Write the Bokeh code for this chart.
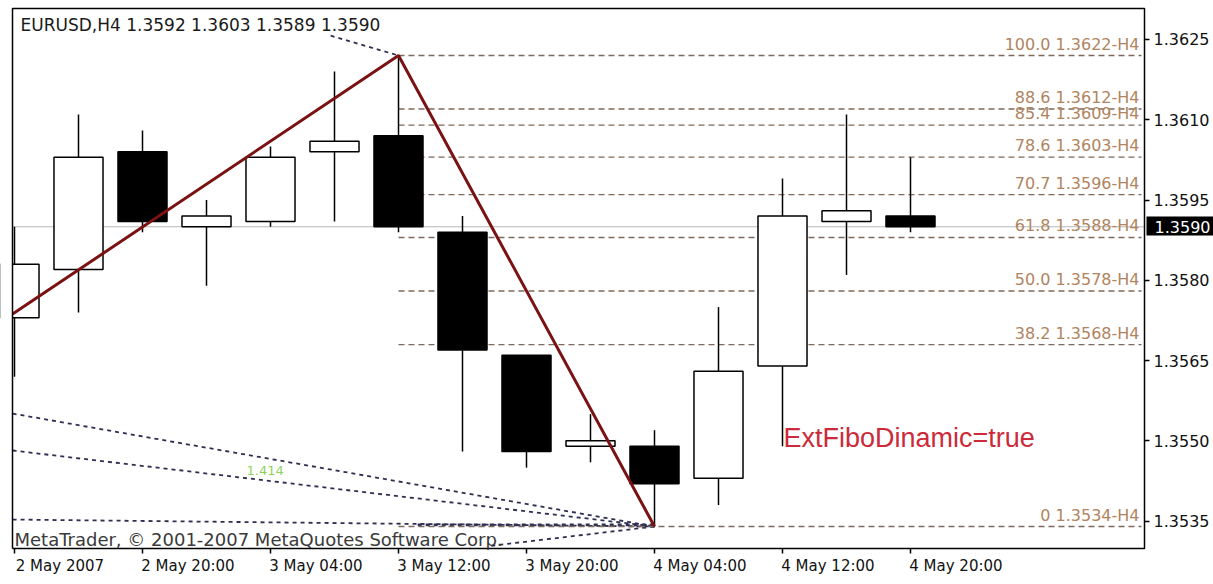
from bokeh.plotting import figure
from bokeh.models import (Range1d, FixedTicker, Label, ColumnDataSource,
                          PrintfTickFormatter, LinearAxis)
from bokeh.core.properties import value
from bokeh.embed import file_html
from bokeh.resources import INLINE

# ---------------- data ----------------
header = "EURUSD,H4  1.3592 1.3603 1.3589 1.3590"
tick_pos = [0, 2, 4, 6, 8, 10, 12, 14]
tick_labels = ["2 May 2007", "2 May 20:00", "3 May 04:00", "3 May 12:00",
               "3 May 20:00", "4 May 04:00", "4 May 12:00", "4 May 20:00"]

opens  = [1.3573, 1.3582, 1.3604, 1.3590, 1.3591, 1.3604, 1.3607, 1.3589, 1.3566, 1.3549, 1.3549, 1.3543, 1.3564, 1.3591, 1.3592]
highs  = [1.3590, 1.3611, 1.3608, 1.3595, 1.3605, 1.3619, 1.3622, 1.3592, 1.3566, 1.3555, 1.3552, 1.3575, 1.3599, 1.3611, 1.3603]
lows   = [1.3562, 1.3574, 1.3589, 1.3579, 1.3590, 1.3591, 1.3589, 1.3548, 1.3545, 1.3546, 1.3534, 1.3538, 1.3549, 1.3581, 1.3589]
closes = [1.3583, 1.3603, 1.3591, 1.3592, 1.3603, 1.3606, 1.3590, 1.3567, 1.3548, 1.3550, 1.3542, 1.3563, 1.3592, 1.3593, 1.3590]

fib_pct   = ["100.0", "88.6", "85.4", "78.6", "70.7", "61.8", "50.0", "38.2", "0"]
fib_price = [1.3622, 1.3612, 1.3609, 1.3603, 1.3596, 1.3588, 1.3578, 1.3568, 1.3534]

zz_x = [-0.03, 6, 10]
zz_y = [1.35737, 1.3622, 1.3534]

price_ticks = [1.3535, 1.3550, 1.3565, 1.3580, 1.3595, 1.3610, 1.3625]
last_price = 1.3590
last_label = "1.3590"

# dashed fan / channel lines of the indicator (bar index, price)
fan_x0 = [-0.03, -0.03, -0.03, 7.45, 6.3, 4.94]
fan_y0 = [1.35551, 1.35482, 1.35353, 1.35304, 1.35343, 1.36257]
fan_x1 = [10, 10, 10, 10, 10, 6]
fan_y1 = [1.3534, 1.3534, 1.3534, 1.3534, 1.35343, 1.3622]
fan_w  = [1.8, 1.8, 1.8, 1.8, 2.8, 1.8]

# ---------------- geometry (page pixels -> data) ----------------
W, H = 1213, 584
BAR_PX = 64.0          # pixels per bar
BAR0_PX = 14.0         # centre of bar 0
PIP_PX = 540.0 / 0.010089   # pixels per price unit
P_REF, P_REF_PX = 1.3622, 55.0

FL, FR, FT, FB = 12, 1144, 8, 548   # chart box (MetaTrader frame)


def px(x):
    return (x - BAR0_PX) / BAR_PX


def py(y):
    return P_REF - (y - P_REF_PX) / PIP_PX


LAB_SHIFT = 0.71  # time labels start at their tick (MetaTrader style)

p = figure(width=W, height=H, x_range=Range1d(px(0), px(W)), y_range=Range1d(py(H), py(0)),
           y_axis_location=None, x_axis_location=None,
           output_backend="svg", toolbar_location=None,
           min_border_left=0, min_border_right=0, min_border_top=0, min_border_bottom=0)
p.extra_x_ranges = {"lab": Range1d(px(0) - LAB_SHIFT, px(W) - LAB_SHIFT)}
p.grid.visible = False
p.outline_line_color = None
p.background_fill_color = "white"
p.border_fill_color = "white"

AX_FONT = "DejaVu Sans"

# price axis, fixed at the right edge of the chart box
yaxis = LinearAxis(fixed_location=px(FR), ticker=FixedTicker(ticks=price_ticks),
                   formatter=PrintfTickFormatter(format="%.4f"),
                   major_label_text_font=AX_FONT, major_label_text_font_size="16px",
                   major_label_text_color="#111111", major_tick_in=0, major_tick_out=5,
                   minor_tick_in=0, minor_tick_out=0, major_label_standoff=4,
                   axis_line_color=None, major_tick_line_color="black", major_tick_line_width=1.5)
p.add_layout(yaxis, "right")

# time axis: tick marks
xaxis = LinearAxis(fixed_location=py(FB), ticker=FixedTicker(ticks=tick_pos),
                   major_label_overrides={t: "" for t in tick_pos},
                   major_tick_in=0, major_tick_out=5, minor_tick_in=0, minor_tick_out=0,
                   major_label_standoff=0, axis_line_color=None,
                   major_tick_line_color="black", major_tick_line_width=1.5)
p.add_layout(xaxis, "below")
# time axis: labels starting at their tick
lab_axis = LinearAxis(x_range_name="lab", fixed_location=py(FB), ticker=FixedTicker(ticks=tick_pos),
                      major_label_overrides={t: l for t, l in zip(tick_pos, tick_labels)},
                      major_tick_in=0, major_tick_out=0, minor_tick_in=0, minor_tick_out=0,
                      axis_line_color=None, major_label_standoff=8,
                      major_label_text_font=AX_FONT, major_label_text_font_size="15px",
                      major_label_text_color="#111111")
p.add_layout(lab_axis, "below")

# bid line
p.segment(x0=px(FL), x1=px(FR), y0=last_price, y1=last_price, line_color="#b8b8b8", line_width=1)

# fan lines
fan_src = ColumnDataSource(dict(x0=fan_x0, y0=fan_y0, x1=fan_x1, y1=fan_y1, w=fan_w))
p.segment("x0", "y0", "x1", "y1", source=fan_src, line_color="#2e2e52", line_width="w",
          line_dash="4 4")

# fibo levels
fib_src = ColumnDataSource(dict(
    x0=[6] * len(fib_price), x1=[px(FR - 3)] * len(fib_price), y=fib_price,
    lab=[f"{a} {b:.4f}-H4" for a, b in zip(fib_pct, fib_price)]))
p.segment("x0", "y", "x1", "y", source=fib_src, line_color="#7d6a5c", line_width=1.3,
          line_dash="6 4")
p.text(x=px(FR - 5), y="y", text="lab", source=fib_src, text_align="right",
       text_baseline="bottom", y_offset=-2, text_font=value(AX_FONT),
       text_font_size="16px", text_color="#b08460")

# candles
idx = list(range(len(opens)))
up = [c >= o for o, c in zip(opens, closes)]
c_src = ColumnDataSource(dict(
    x=idx, hi=highs, lo=lows,
    top=[max(o, c) for o, c in zip(opens, closes)],
    bot=[min(o, c) for o, c in zip(opens, closes)],
    fill=["white" if u else "black" for u in up]))
p.segment("x", "hi", "x", "lo", source=c_src, line_color="black", line_width=1.5)
p.vbar(x="x", width=0.766, top="top", bottom="bot", source=c_src, fill_color="fill",
       line_color="black", line_width=1.5)

# zigzag
p.line(zz_x, zz_y, line_color="#7a1214", line_width=3)

# mask outside the chart box on the left, then the box border
p.quad(left=px(-2), right=px(FL), bottom=py(H), top=py(0), fill_color="white", line_color=None)
p.line(x=[px(FL), px(FL), px(FR), px(FR), px(FL)], y=[py(FB), py(FT), py(FT), py(FB), py(FB)],
       line_color="black", line_width=1.5)

# current price box on the axis
p.quad(left=px(FR + 2), right=px(W + 2), top=py(216), bottom=py(235), fill_color="black",
       line_color=None)
p.text(x=[px(FR + 10)], y=[last_price], text=[last_label], text_baseline="middle",
       text_font=value(AX_FONT), text_font_size="16px", text_color="white")

# texts
p.add_layout(Label(x=px(20), y=py(14), text=header, text_baseline="top",
                   text_font=AX_FONT, text_font_size="17px", text_color="#1a1a1a"))
p.add_layout(Label(x=px(14), y=py(549), text="MetaTrader, \u00a9 2001-2007 MetaQuotes Software Corp.",
                   text_baseline="bottom", text_font=AX_FONT, text_font_size="18px",
                   text_color="#3a3a3a"))
p.add_layout(Label(x=px(783), y=py(437), text="ExtFiboDinamic=true", text_baseline="middle",
                   text_font="Liberation Sans", text_font_size="27px", text_color="#cc2a3a"))
p.add_layout(Label(x=px(246), y=py(470), text="1.414", text_baseline="middle",
                   text_font=AX_FONT, text_font_size="13px", text_color="#8ed45a"))

open("out.html", "w").write(file_html(p, INLINE))
